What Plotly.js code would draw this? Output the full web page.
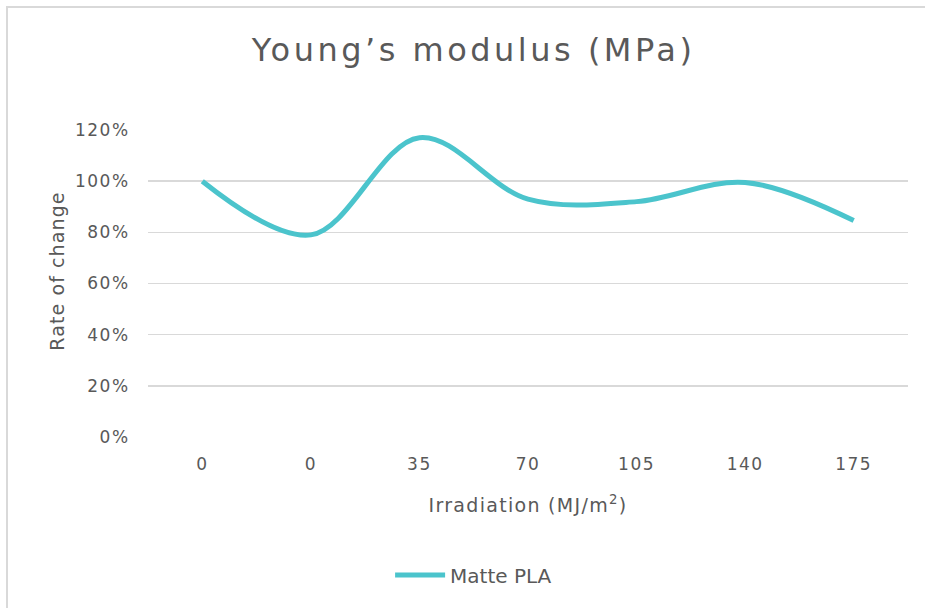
<!DOCTYPE html>
<html>
<head>
<meta charset="utf-8">
<script src="https://cdn.plot.ly/plotly-3.0.1.min.js"></script>
<style>
  html, body { margin: 0; padding: 0; background: #ffffff; }
  #frame { position: absolute; left: 6px; top: 6px; width: 925px; height: 608px; border-top: 2px solid #d9d9d9; border-left: 2px solid #d9d9d9; box-sizing: border-box; }
  #chart { position: absolute; left: 0; top: 0; width: 925px; height: 608px; }
  #chart .gtitle { letter-spacing: 3.5px; }
  #chart .xtick text, #chart .ytick text { letter-spacing: 1.5px; }
  #chart .xtitle { letter-spacing: 1.3px; }
  #chart .annotation-text { letter-spacing: 1.1px; }
</style>
</head>
<body>
<div id="frame"></div>
<div id="chart"></div>
<script>
const categories = ["0", "0", "35", "70", "105", "140", "175"];
const positions = [0, 1, 2, 3, 4, 5, 6];
const mattePLA = [1.00, 0.79, 1.17, 0.93, 0.92, 0.995, 0.846];
const yTicks = [0, 0.2, 0.4, 0.6, 0.8, 1.0, 1.2];
const yTickLabels = ["0%", "20%", "40%", "60%", "80%", "100%", "120%"];

const fontFam = "'DejaVu Sans', 'Open Sans', sans-serif";
const textColor = "#595959";

const trace = {
  x: positions,
  y: mattePLA,
  type: "scatter",
  mode: "lines",
  name: "Matte PLA",
  line: { color: "#4BC4CC", width: 5, shape: "spline", smoothing: 1 },
  hoverinfo: "x+y"
};

const layout = {
  width: 925,
  height: 608,
  autosize: false,
  paper_bgcolor: "rgba(0,0,0,0)",
  plot_bgcolor: "rgba(0,0,0,0)",
  margin: { l: 148, r: 17, t: 130, b: 171 },
  font: { family: fontFam, color: textColor, size: 16 },
  title: {
    text: "Young’s modulus (MPa)",
    font: { family: fontFam, size: 32, color: textColor },
    x: 0.512, xref: "container", xanchor: "center",
    y: 1 - 50 / 608, yref: "container", yanchor: "middle"
  },
  xaxis: {
    range: [-0.5, 6.5],
    tickmode: "array",
    tickvals: positions,
    ticktext: categories,
    showgrid: false,
    zeroline: false,
    showline: false,
    ticks: "outside",
    ticklen: 12,
    tickcolor: "rgba(0,0,0,0)",
    tickfont: { size: 17, color: textColor },
    title: { text: "Irradiation (MJ/m<sup>2</sup>)", font: { size: 19, color: textColor }, standoff: 25 }
  },
  yaxis: {
    range: [0, 1.2],
    tickmode: "array",
    tickvals: yTicks,
    ticktext: yTickLabels,
    showgrid: true,
    gridcolor: "#d9d9d9",
    gridwidth: 1.5,
    zeroline: false,
    showline: false,
    ticks: "outside",
    ticklen: 14,
    tickcolor: "rgba(0,0,0,0)",
    tickfont: { size: 17, color: textColor }
  },
  annotations: [{
    text: "Rate of change",
    xref: "paper", yref: "paper",
    x: (57 - 148) / 760, y: (437 - 271) / 307,
    xanchor: "center", yanchor: "middle",
    textangle: -90,
    showarrow: false,
    font: { size: 19, color: textColor }
  }],
  showlegend: true,
  legend: {
    orientation: "h",
    xref: "container", yref: "container",
    x: 0.512, xanchor: "center",
    y: 1 - 575 / 608, yanchor: "middle",
    font: { size: 20, color: textColor },
    itemwidth: 50
  }
};

Plotly.newPlot("chart", [trace], layout, { displayModeBar: false, staticPlot: true });
</script>
</body>
</html>
